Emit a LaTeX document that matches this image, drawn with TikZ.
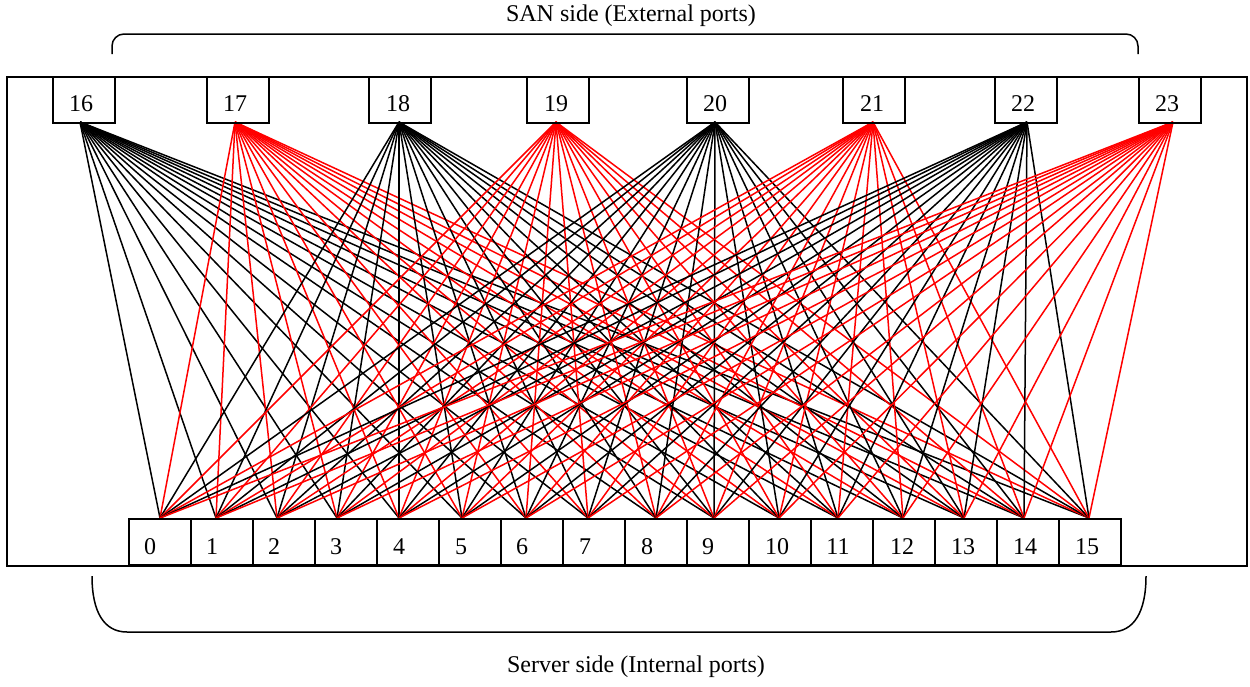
\documentclass[tikz,border=0pt]{standalone}
\usepackage{fontspec}
\setmainfont{Liberation Serif}
\begin{document}
\begin{tikzpicture}[x=1pt,y=-1pt,
  box/.style={draw,line width=1.5pt,minimum width=62pt,minimum height=46pt,inner sep=0pt,anchor=north west},
  lbl/.style={font=\fontsize{24}{28}\selectfont,inner sep=0pt},
  wire/.style={line width=1.5pt},
  brace/.style={line width=1.5pt}]
\useasboundingbox (0,0) rectangle (1250,686);
% frame
\node[draw,line width=1.5pt,minimum width=1240pt,minimum height=489pt,inner sep=0pt,anchor=north west] (frame) at (6,76) {};
% connection points
\foreach \n/\cx in {16/80,17/235,18/399,19/556,20/715,21/873,22/1027,23/1173}
  \coordinate (t\n) at (\cx,122);
\foreach \i/\cx in {0/160,1/216,2/277,3/337,4/399,5/462,6/526,7/588,8/656,9/714,10/779,11/838,12/903,13/964,14/1024,15/1089}
  \coordinate (b\i) at (\cx,518);
% wires
\foreach \n/\c in {16/black,17/red,18/black,19/red,20/black,21/red,22/black,23/red}
  \foreach \i in {0,...,15}
    \draw[wire,draw=\c] (t\n) -- (b\i);
% top boxes
\foreach \n/\x/\lx in {16/52/81,17/206/235,18/368/398,19/526/556,20/686/715,21/842/872,22/994/1023,23/1138/1167}{
  \node[box] (T\n) at (\x,76) {};
  \node[lbl] (L\n) at (\lx,104) {\n};
}
% bottom boxes
\foreach \i/\lx in {0/150,1/212,2/274,3/336,4/399,5/461,6/522,7/585,8/647,9/708,10/777,11/838,12/902,13/963,14/1025,15/1087}{
  \node[box] (B\i) at ({128+62*\i},518) {};
  \node[lbl] (M\i) at (\lx,547) {\i};
}
% braces
\draw[brace,rounded corners=12pt] (112,54) |- (1138,34) -- (1138,54);
\draw[brace] (92,576) .. controls (92,612) and (104,632) .. (127,632) -- (1111,632) .. controls (1134,632) and (1146,612) .. (1146,576);
\node[lbl] (san) at (631,16) {SAN side (External ports)};
\node[lbl] (srv) at (636,667) {Server side (Internal ports)};
\end{tikzpicture}
\end{document}
